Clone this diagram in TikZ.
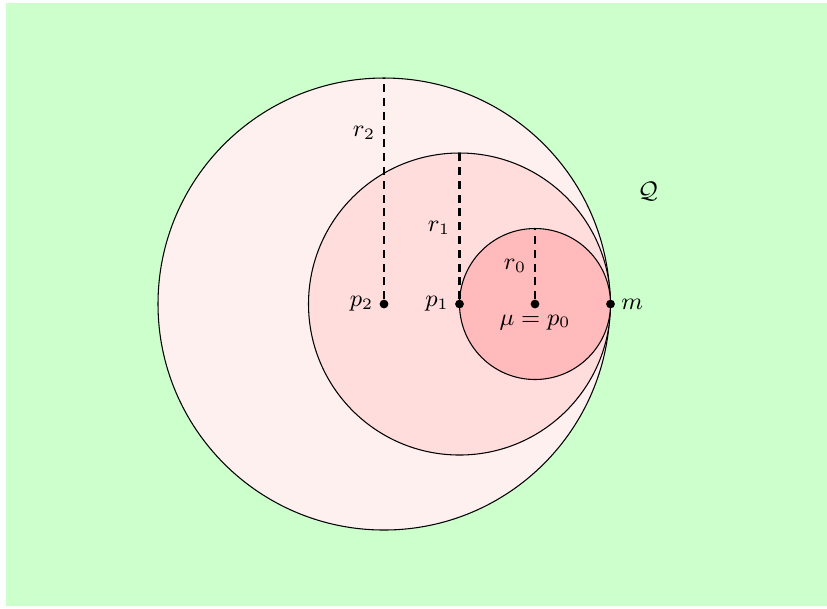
\documentclass[tikz,border=0pt]{standalone}
\definecolor{bggreen}{RGB}{204,255,204}
\definecolor{outerfill}{RGB}{255,240,240}
\definecolor{midfill}{RGB}{255,221,221}
\definecolor{innerfill}{RGB}{255,187,187}
\begin{document}
\begin{tikzpicture}[x=0.013245cm,y=-0.013245cm,
  circ/.style={draw=black,line width=0.4pt},
  rad/.style={draw=black,dash pattern=on 3pt off 2.2pt,line width=0.9pt},
  dot/.style={circle,fill=black,inner sep=0pt,minimum size=3.3pt},
  lbl/.style={font=\small,inner sep=2pt}]
\useasboundingbox (0,0) rectangle (827,608);
\fill[bggreen] (6,3) rectangle (827,606);
\filldraw[circ,fill=outerfill] (384,304) circle [radius=226];
\filldraw[circ,fill=midfill] (459.5,304) circle [radius=151];
\filldraw[circ,fill=innerfill] (535,304) circle [radius=75.5];
\node[dot] (p2) at (384,304) {};
\node[dot] (p1) at (459.5,304) {};
\node[dot] (p0) at (535,304) {};
\node[dot] (m) at (610.5,304) {};
\coordinate (t2) at (384,78);
\coordinate (t1) at (459.5,153);
\coordinate (t0) at (535,228.5);
\draw[rad] (p2) -- (t2);
\draw[rad] (p1) -- (t1);
\draw[rad] (p0) -- (t0);
\node[lbl] (lr2) at (364,133) {$r_2$};
\node[lbl] (lr1) at (439,228) {$r_1$};
\node[lbl] (lr0) at (515,266) {$r_0$};
\node[lbl,anchor=east] (lp2) at (p2.west) {$p_2$};
\node[lbl,anchor=east] (lp1) at (p1.west) {$p_1$};
\node[lbl,anchor=north] (lp0) at (p0.south) {$\mu = p_0$};
\node[lbl,anchor=west] (lm) at (m.east) {$m$};
\node[lbl] (lq) at (648,191) {$\mathcal{Q}$};
\end{tikzpicture}
\end{document}
